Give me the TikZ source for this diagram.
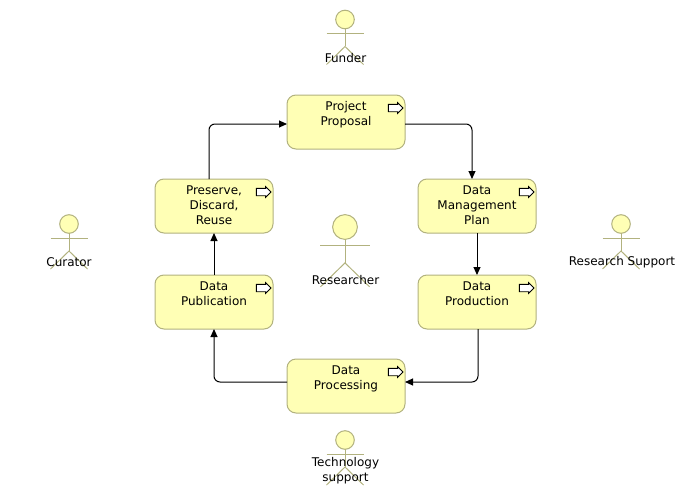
\documentclass[tikz,border=0pt]{standalone}
\usepackage{fontspec}
\setmainfont{DejaVu Sans}
\usetikzlibrary{arrows.meta,positioning}
\definecolor{boxfill}{HTML}{FFFFB5}
\definecolor{boxline}{HTML}{B2B27F}
\tikzset{
  actor/.pic={
    \draw[boxline, fill=boxfill] (0,0) circle (9.3);
    \draw[boxline] (0,9.3) -- (0,27);
    \draw[boxline] (-18.5,14) -- (18.5,14);
    \draw[boxline] (-18.5,45) -- (0,27) -- (18.5,45);
  }
}
\begin{document}
\begin{tikzpicture}[
  x=1pt, y=-1pt, line width=1pt,
  font=\fontsize{12}{15}\selectfont,
  proc/.style={draw=boxline, fill=boxfill, rounded corners=9pt, align=center, text width=114pt, inner ysep=5pt, inner xsep=2pt,
    outer sep=0pt, text height=10pt, text depth=34pt},
  who/.style={align=center, inner sep=1pt},
  flow/.style={draw, -{Triangle[length=8pt,width=7pt]}, rounded corners=6pt},
  procicon/.style={draw, fill=white, line width=0.9pt}
]
\useasboundingbox (0,0) rectangle (692,495);
\node[proc] (proposal) at (346,122) {Project\\Proposal};
\node[proc, below right=30pt and 13pt of proposal] (plan) {Data\\Management\\Plan};
\node[proc, below=42pt of plan] (production) {Data\\Production};
\node[proc, below left=30pt and 13pt of production] (processing) {Data\\Processing};
\node[proc, above left=30pt and 14pt of processing] (publication) {Data\\Publication};
\node[proc, above=42pt of publication] (preserve) {Preserve,\\Discard,\\Reuse};
\foreach \n in {proposal,plan,production,processing,publication,preserve}
  \draw[procicon] ([shift={(-16.7,9.3)}]\n.north east) -- ++(9.3,0) -- ++(0,-1.6) -- ++(5.4,5.3) -- ++(-5.4,5.3) -- ++(0,-1.6) -- ++(-9.3,0) -- cycle;
\draw[flow] ([yshift=-2pt]proposal.east) -| ([xshift=-5pt]plan.north);
\draw[flow] (plan.south) -- (production.north);
\draw[flow] ([xshift=1pt]production.south) |- ([yshift=4pt]processing.east);
\draw[flow] ([yshift=4pt]processing.west) -| (publication.south);
\draw[flow] (publication.north) -- (preserve.south);
\draw[flow] ([xshift=-5pt]preserve.north) |- ([yshift=-2pt]proposal.west);
\pic at (345,19.5) {actor};
\pic at (69,224) {actor};
\pic at (621,224) {actor};
\pic at (345,440) {actor};
\pic[scale=1.33] at (345,227) {actor};
\node[who] (funder) at (345.5,58) {Funder};
\node[who] (curator) at (69,262) {Curator};
\node[who] (support) at (622,262) {Research Support};
\node[who] (researcher) at (345.5,280) {Researcher};
\node[who] (technology) at (345.5,470.5) {Technology\\support};
\end{tikzpicture}
\end{document}
